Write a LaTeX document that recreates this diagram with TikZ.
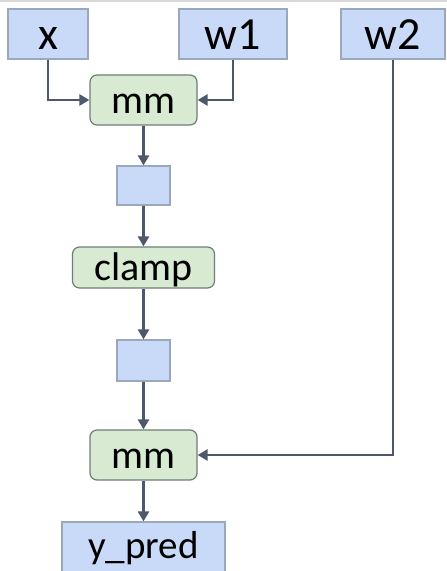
\documentclass[tikz,border=0pt]{standalone}
\usepackage{fontspec}
\setmainfont{Carlito}
\usetikzlibrary{arrows.meta}
\definecolor{bluefill}{HTML}{C9DAF8}
\definecolor{blueline}{HTML}{9AA8BC}
\definecolor{greenfill}{HTML}{D9EAD3}
\definecolor{greenline}{HTML}{6F7E77}
\definecolor{arrowcol}{HTML}{4B596A}
\tikzset{
  tensor/.style={draw=blueline, fill=bluefill, line width=1.2pt, inner sep=0pt, anchor=center},
  op/.style={draw=greenline, fill=greenfill, line width=1.2pt, rounded corners=7pt, inner sep=0pt, anchor=center},
  flow/.style={draw=arrowcol, line width=2.6pt, -{Triangle[length=10pt,width=11pt]}},
  bigtxt/.style={font=\fontsize{46}{50}\selectfont, text height=30pt, text depth=0pt},
  midtxt/.style={font=\fontsize{40}{44}\selectfont, text height=26pt, text depth=0pt},
  predtxt/.style={font=\fontsize{39}{43}\selectfont, text height=34pt, text depth=30pt}
}
\begin{document}
\begin{tikzpicture}[x=1pt,y=-1pt]
\useasboundingbox (0,0) rectangle (447,571);
\clip (0,0) rectangle (447,571);
\fill[white] (0,0) rectangle (447,571);
\draw[line width=1.5pt, draw=black!15] (0,1) -- (447,1);

\node[tensor, bigtxt, minimum width=80pt, minimum height=50pt] (x) at (48,34) {x};
\node[tensor, bigtxt, minimum width=108pt, minimum height=50pt] (w1) at (233,34) {w1};
\node[tensor, bigtxt, minimum width=104pt, minimum height=50pt] (w2) at (393,34) {w2};

\node[op, midtxt, minimum width=107pt, minimum height=50pt] (mm1) at (143.5,100) {mm};
\node[tensor, minimum width=53pt, minimum height=39pt] (t1) at (143.5,185.5) {};
\node[op, midtxt, text height=25pt, minimum width=142pt, minimum height=41pt] (clamp) at (143.5,267.5) {clamp};
\node[tensor, minimum width=53pt, minimum height=41pt] (t2) at (143.5,360.5) {};
\node[op, midtxt, minimum width=107pt, minimum height=50pt] (mm2) at (143.5,455) {mm};
\node[tensor, predtxt, minimum width=163pt, minimum height=68pt] (y) at (143.5,556) {y\_pred};

\draw[flow] (x.south) |- (mm1.west);
\draw[flow] (w1.south) |- (mm1.east);
\draw[flow] (mm1.south) -- (t1.north);
\draw[flow] (t1.south) -- (clamp.north);
\draw[flow] (clamp.south) -- (t2.north);
\draw[flow] (t2.south) -- (mm2.north);
\draw[flow] (w2.south) |- (mm2.east);
\draw[flow] (mm2.south) -- (y.north);
\end{tikzpicture}
\end{document}
